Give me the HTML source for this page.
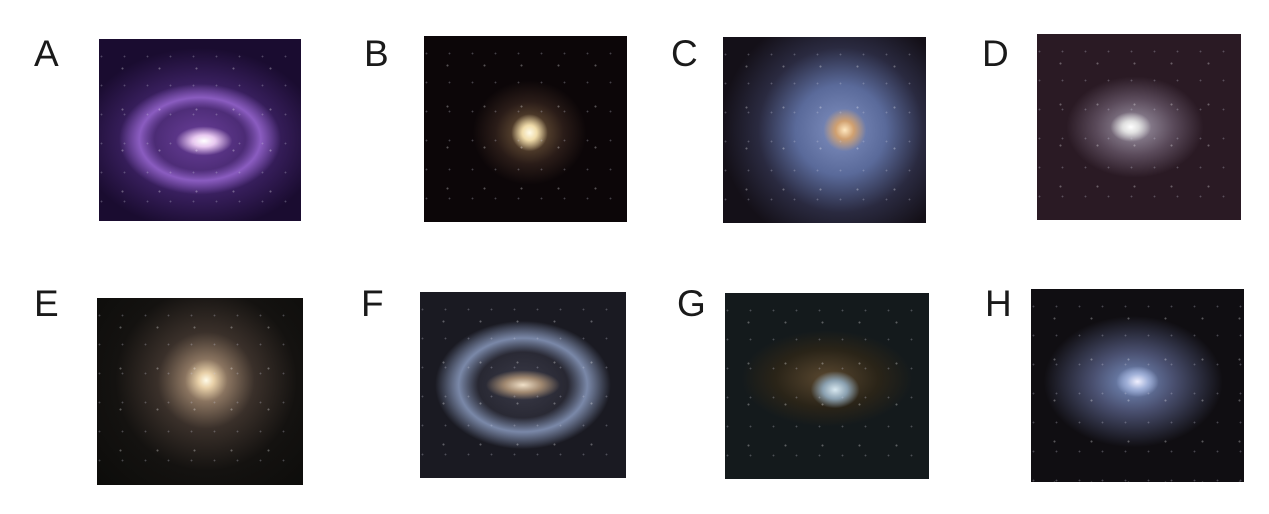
<!DOCTYPE html>
<html><head><meta charset="utf-8"><style>
html,body{margin:0;padding:0;background:#fff;width:1269px;height:514px;overflow:hidden;position:relative;font-family:"Liberation Sans","DejaVu Sans",sans-serif}
.lbl{position:absolute;font-size:37px;color:#1a1a1a;line-height:1}
.img{position:absolute;overflow:hidden}
.img::after{content:"";position:absolute;inset:0;background-image:radial-gradient(circle,#fff 0.8px,transparent 1.2px),radial-gradient(circle,#ccd 0.7px,transparent 1.1px);background-size:37px 41px,23px 29px;background-position:5px 9px,14px 3px;opacity:.3}
</style></head><body>
<div class="lbl" style="left:34px;top:35px">A</div>
<div class="img" style="left:99px;top:39px;width:202px;height:182px;background:radial-gradient(ellipse 14% 8% at 52% 56%,#fff 0%,#e8c8f0 40%,transparent 100%),radial-gradient(ellipse 50% 38% at 50% 55%,transparent 45%,#8a5cc0 60%,transparent 80%),radial-gradient(ellipse 60% 50% at 50% 55%,#6a3f9a 0%,#3a2060 60%,#1a0c30 100%)"></div>

<div class="lbl" style="left:364px;top:35px">B</div>
<div class="img" style="left:424px;top:36px;width:203px;height:186px;background:radial-gradient(ellipse 9% 10% at 52% 52%,#fffbe8 0%,#f0dcaa 40%,transparent 100%),radial-gradient(ellipse 28% 28% at 52% 52%,#7a6040 0%,#2a1c18 60%,transparent 100%),#0c0608"></div>

<div class="lbl" style="left:671px;top:35px">C</div>
<div class="img" style="left:723px;top:37px;width:203px;height:186px;background:radial-gradient(circle at 60% 50%,#ffe8c0 0%,#d0a070 6%,transparent 14%),radial-gradient(circle at 58% 50%,#8090c0 0%,#5a6a9a 30%,#2a2a40 55%,#141018 80%),#141018"></div>

<div class="lbl" style="left:982px;top:35px">D</div>
<div class="img" style="left:1037px;top:34px;width:204px;height:186px;background:radial-gradient(ellipse 10% 8% at 46% 50%,#fff 0%,#e0e0e0 40%,transparent 100%),radial-gradient(ellipse 42% 34% at 48% 50%,#a098a8 0%,#5a4a5a 45%,#2a1a24 80%),#1c1018"></div>

<div class="lbl" style="left:34px;top:285px">E</div>
<div class="img" style="left:97px;top:298px;width:206px;height:187px;background:radial-gradient(circle at 53% 44%,#fffbe8 0%,#e8d0a8 5%,#8a7460 14%,#3a302a 32%,#141210 60%,#0c0c0a 100%)"></div>

<div class="lbl" style="left:361px;top:285px">F</div>
<div class="img" style="left:420px;top:292px;width:206px;height:186px;background:radial-gradient(ellipse 18% 8% at 50% 50%,#f0e0c8 0%,#a08870 50%,transparent 100%),radial-gradient(ellipse 52% 42% at 50% 50%,transparent 42%,#7a88a8 60%,transparent 82%),radial-gradient(ellipse 55% 50% at 50% 50%,#3a3a48 0%,#1a1a22 70%),#14141a"></div>

<div class="lbl" style="left:677px;top:285px">G</div>
<div class="img" style="left:725px;top:293px;width:204px;height:186px;background:radial-gradient(ellipse 12% 10% at 54% 52%,#d8e8f0 0%,#8aa0b0 50%,transparent 100%),radial-gradient(ellipse 42% 26% at 50% 46%,#5a4830 0%,#2a2418 60%,transparent 100%),#141a1c"></div>

<div class="lbl" style="left:985px;top:285px">H</div>
<div class="img" style="left:1031px;top:289px;width:213px;height:193px;background:radial-gradient(ellipse 10% 8% at 50% 48%,#f0f0ff 0%,#a0b0d8 50%,transparent 100%),radial-gradient(ellipse 42% 34% at 48% 48%,#7890c0 0%,#4a5070 45%,transparent 100%),#100e12"></div>
</body></html>
